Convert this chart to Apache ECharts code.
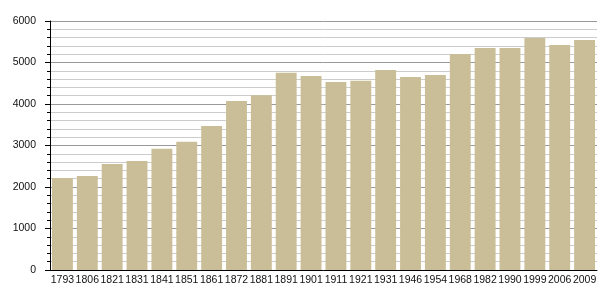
<!DOCTYPE html>
<html><head><meta charset="utf-8">
<script src="https://cdn.jsdelivr.net/npm/echarts@6/dist/echarts.min.js"></script>
<style>html,body{margin:0;padding:0;background:#fff}#c{width:605px;height:300px}</style>
</head><body><div id="c"></div>
<script>
const years = ['1793','1806','1821','1831','1841','1851','1861','1872','1881','1891','1901','1911','1921','1931','1946','1954','1968','1982','1990','1999','2006','2009'];
const population = [2215,2265,2555,2627,2920,3090,3470,4072,4210,4755,4675,4530,4562,4819,4650,4700,5205,5350,5350,5590,5422,5542];
const chart = echarts.init(document.getElementById('c'), null, {renderer:'canvas'});
chart.setOption({
  animation:false,
  grid:{left:50,right:8,top:21,bottom:30,containLabel:false},
  xAxis:{type:'category',data:years,
    axisLine:{show:true,lineStyle:{color:'#000',width:1}},
    axisTick:{show:false},
    axisLabel:{fontFamily:'Liberation Sans',fontSize:10.5,color:'#111',margin:5,interval:0},
    splitLine:{show:false}},
  yAxis:{type:'value',min:0,max:6000,interval:1000,
    axisLine:{show:true,lineStyle:{color:'#000',width:1}},
    axisTick:{show:true,length:5,lineStyle:{color:'#000'}},
    minorTick:{show:true,splitNumber:5,length:3,lineStyle:{color:'#000'}},
    axisLabel:{fontFamily:'Liberation Sans',fontSize:10.5,color:'#111',margin:14,formatter:v=>String(v)},
    splitLine:{show:true,lineStyle:{color:'#999',width:1}},
    minorSplitLine:{show:true,lineStyle:{color:'#ccc',width:1}}},
  series:[{type:'bar',data:population,barCategoryGap:'16%',
    itemStyle:{color:'#c9be97'}}]
});
</script></body></html>
